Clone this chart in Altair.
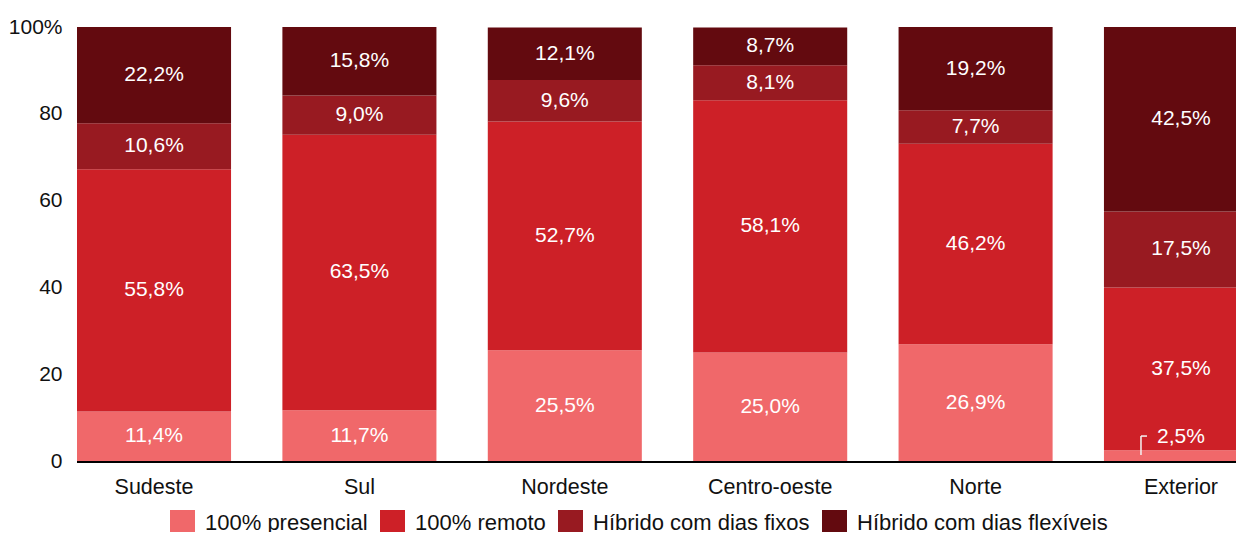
import altair as alt
import pandas as pd

regions = ["Sudeste", "Sul", "Nordeste", "Centro-oeste", "Norte", "Exterior"]
categories = ["100% presencial", "100% remoto", "Híbrido com dias fixos", "Híbrido com dias flexíveis"]
presencial = [11.4, 11.7, 25.5, 25.0, 26.9, 2.5]
remoto = [55.8, 63.5, 52.7, 58.1, 46.2, 37.5]
fixos = [10.6, 9.0, 9.6, 8.1, 7.7, 17.5]
flexiveis = [22.2, 15.8, 12.1, 8.7, 19.2, 42.5]
colors = ["#F0686A", "#CD2027", "#981A21", "#630A0F"]
y_ticks = [0, 20, 40, 60, 80, 100]

series = [presencial, remoto, fixos, flexiveis]
rows = []
for ri, r in enumerate(regions):
    base = 0.0
    for ci, c in enumerate(categories):
        v = series[ci][ri]
        rows.append({"regiao": r, "cat": c, "idx": ci, "valor": v,
                     "mid": base + v / 2,
                     "label": f"{v:.1f}%".replace(".", ","),
                     "small": v < 5})
        base += v
df = pd.DataFrame(rows)

FONT = "Liberation Sans"
PLOT_W = 1159
xscale = alt.Scale(domain=regions, range=[0, 1181], paddingInner=0.25, paddingOuter=0)
yscale = alt.Scale(domain=[0, 100], nice=False)

bars = alt.Chart(df).mark_bar(clip=True).encode(
    x=alt.X("regiao:N", scale=xscale, sort=regions,
            axis=alt.Axis(title=None, labelAngle=0, labelFontSize=21.5, labelFont=FONT,
                          labelColor="#111", domain=False, ticks=False, labelPadding=15)),
    y=alt.Y("sum(valor):Q", stack="zero", scale=yscale,
            axis=alt.Axis(title=None, values=y_ticks, grid=False, domain=False, ticks=False,
                          labelFontSize=21, labelFont=FONT, labelColor="#111", labelPadding=15,
                          labelExpr="datum.value == 100 ? '100%' : datum.label")),
    color=alt.Color("cat:N", scale=alt.Scale(domain=categories, range=colors),
                    legend=alt.Legend(title=None, orient="none", direction="horizontal",
                                      legendX=93, legendY=483, symbolType="square",
                                      symbolSize=625, symbolStrokeWidth=0, symbolOpacity=1,
                                      labelFontSize=22, labelFont=FONT, labelColor="#111",
                                      labelOffset=10, columnPadding=12, padding=0,
                                      labelLimit=400)),
    order=alt.Order("idx:Q"),
)

labels = alt.Chart(df[~df["small"]]).mark_text(
    color="white", fontSize=21, font=FONT, baseline="middle", align="center"
).encode(
    x=alt.X("regiao:N", scale=xscale, sort=regions),
    y=alt.Y("mid:Q", scale=yscale),
    text="label:N",
)

small_labels = alt.Chart(df[df["small"]]).mark_text(
    color="white", fontSize=21, font=FONT, baseline="middle", align="center", dy=-19
).encode(
    x=alt.X("regiao:N", scale=xscale, sort=regions),
    y=alt.Y("mid:Q", scale=yscale),
    text="label:N",
)

small_df = df[df["small"]].assign(y_lo=lambda d: d["valor"] * 0.56, y_hi=lambda d: d["valor"] * 2.3)
leader_v = alt.Chart(small_df).mark_rule(color="#f4f4f4", strokeWidth=1.5, xOffset=-40).encode(
    x=alt.X("regiao:N", scale=xscale, sort=regions),
    y=alt.Y("y_lo:Q", scale=yscale),
    y2="y_hi:Q",
)
leader_h = alt.Chart(small_df).mark_rule(color="#f4f4f4", strokeWidth=1.5, xOffset=-40, x2Offset=-34).encode(
    x=alt.X("regiao:N", scale=xscale, sort=regions),
    x2="regiao:N",
    y=alt.Y("y_hi:Q", scale=yscale),
)

baseline = alt.Chart(df).mark_rule(color="#000", strokeWidth=2).encode(
    x=alt.value(0), x2=alt.value(PLOT_W), y=alt.value(435),
)

chart = alt.layer(bars, labels, small_labels, leader_v, leader_h, baseline).properties(
    width=PLOT_W, height=434,
    autosize=alt.AutoSizeParams(type="none"),
    padding={"left": 69, "top": 19, "right": 0, "bottom": 71},
).configure_view(stroke=None)

chart.save("out.html", embed_options={"renderer": "svg", "actions": False})
